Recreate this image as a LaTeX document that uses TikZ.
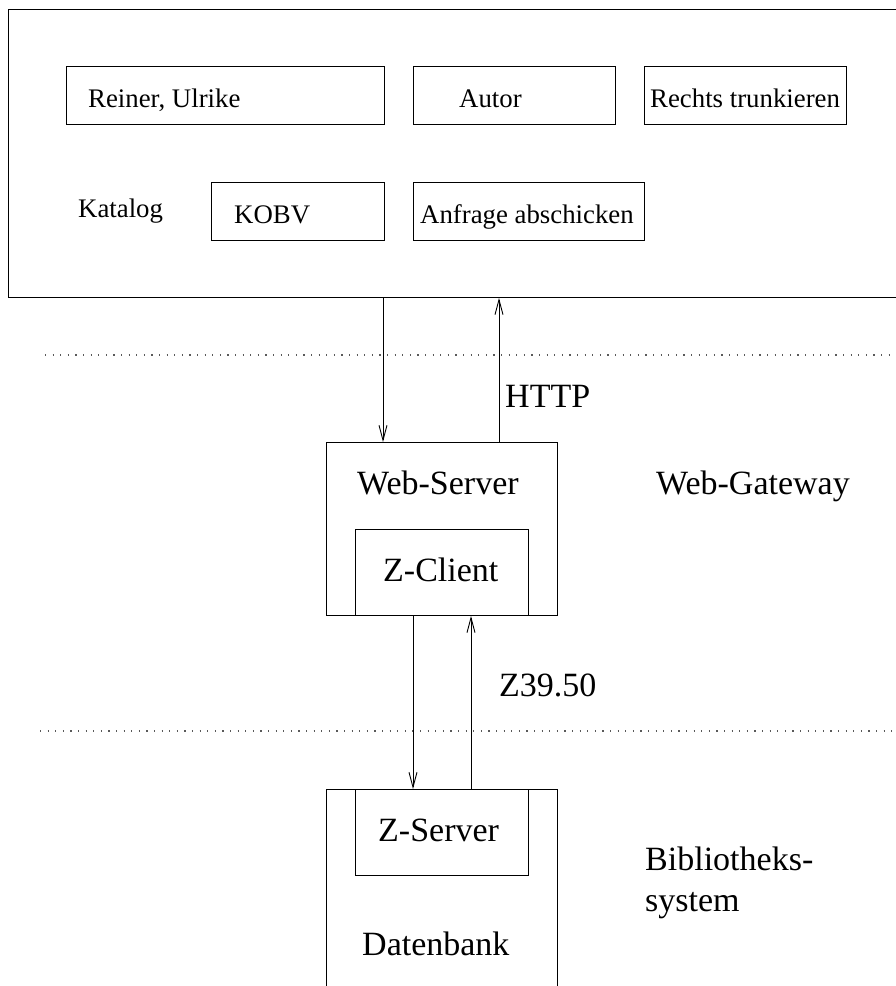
\documentclass[tikz,border=0pt]{standalone}
\usepackage{fontspec}
\setmainfont{Liberation Serif}
\usetikzlibrary{arrows.meta}
\begin{document}
\begin{tikzpicture}[x=1pt,y=-1pt,
  box/.style={draw, line width=0.9pt, inner sep=0pt, anchor=north west},
  small/.style={font=\fontsize{26.8}{30}\selectfont, inner sep=0pt, anchor=base west},
  big/.style={font=\fontsize{34}{40}\selectfont, inner sep=0pt, anchor=base west},
  arr/.style={line width=0.9pt, -{Straight Barb[length=15pt,width=8pt,line width=0.9pt]}},
  dotline/.style={line width=1.2pt, dash pattern=on 1.2pt off 6.4pt, gray!70!black}]
\useasboundingbox (0,0) rectangle (895,986);
% top window
\node[box, minimum width=900pt, minimum height=288pt] (win) at (8,9) {};
\node[box, minimum width=318pt, minimum height=58pt] (reiner) at (66,66) {};
\node[box, minimum width=202pt, minimum height=58pt] (autor) at (413,66) {};
\node[box, minimum width=202pt, minimum height=58pt] (rechts) at (644,66) {};
\node[box, minimum width=173pt, minimum height=58pt] (kobv) at (211,182) {};
\node[box, minimum width=231pt, minimum height=58pt] (anfrage) at (413,182) {};
\node[small] (reinerT) at (88,107) {Reiner, Ulrike};
\node[small] (autorT) at (459,107) {Autor};
\node[small] (rechtsT) at (650,107) {Rechts trunkieren};
\node[small] (katalogT) at (78,217) {Katalog};
\node[small] (kobvT) at (234,223) {KOBV};
\node[small] (anfrageT) at (420,223) {Anfrage abschicken};
% separators
\coordinate (d1a) at (45,355);
\coordinate (d1b) at (900,355);
\coordinate (d2a) at (40,731);
\coordinate (d2b) at (900,731);
\draw[dotline] (d1a) -- (d1b);
\draw[dotline] (d2a) -- (d2b);
% gateway
\node[box, minimum width=231pt, minimum height=173pt] (web) at (326,442) {};
\node[box, minimum width=173pt, minimum height=86pt] (zclient) at (355,529) {};
\node[big] (webT) at (357,494) {Web-Server};
\node[big] (zclientT) at (383,581) {Z-Client};
\node[big] (gatewayT) at (656,494) {Web-Gateway};
\node[big] (httpT) at (505,407) {HTTP};
\node[big] (zT) at (499,696) {Z39.50};
% library system
\node[box, minimum width=231pt, minimum height=230pt] (lib) at (326,789) {};
\node[box, minimum width=173pt, minimum height=86pt] (zserver) at (355,789) {};
\node[big] (zserverT) at (378,841) {Z-Server};
\node[big] (datenT) at (362,955) {Datenbank};
\node[big] (biblT) at (645,870) {Bibliotheks-};
\node[big] (systT) at (645,911) {system};
% connectors
\coordinate (x1) at (383,0);
\coordinate (x2) at (499,0);
\coordinate (x3) at (413,0);
\coordinate (x4) at (471,0);
\draw[arr] (win.south -| x1) -- (web.north -| x1);
\draw[arr] (web.north -| x2) -- (win.south -| x2);
\draw[arr] (web.south -| x3) -- (lib.north -| x3);
\draw[arr] (lib.north -| x4) -- (web.south -| x4);
\end{tikzpicture}
\end{document}
